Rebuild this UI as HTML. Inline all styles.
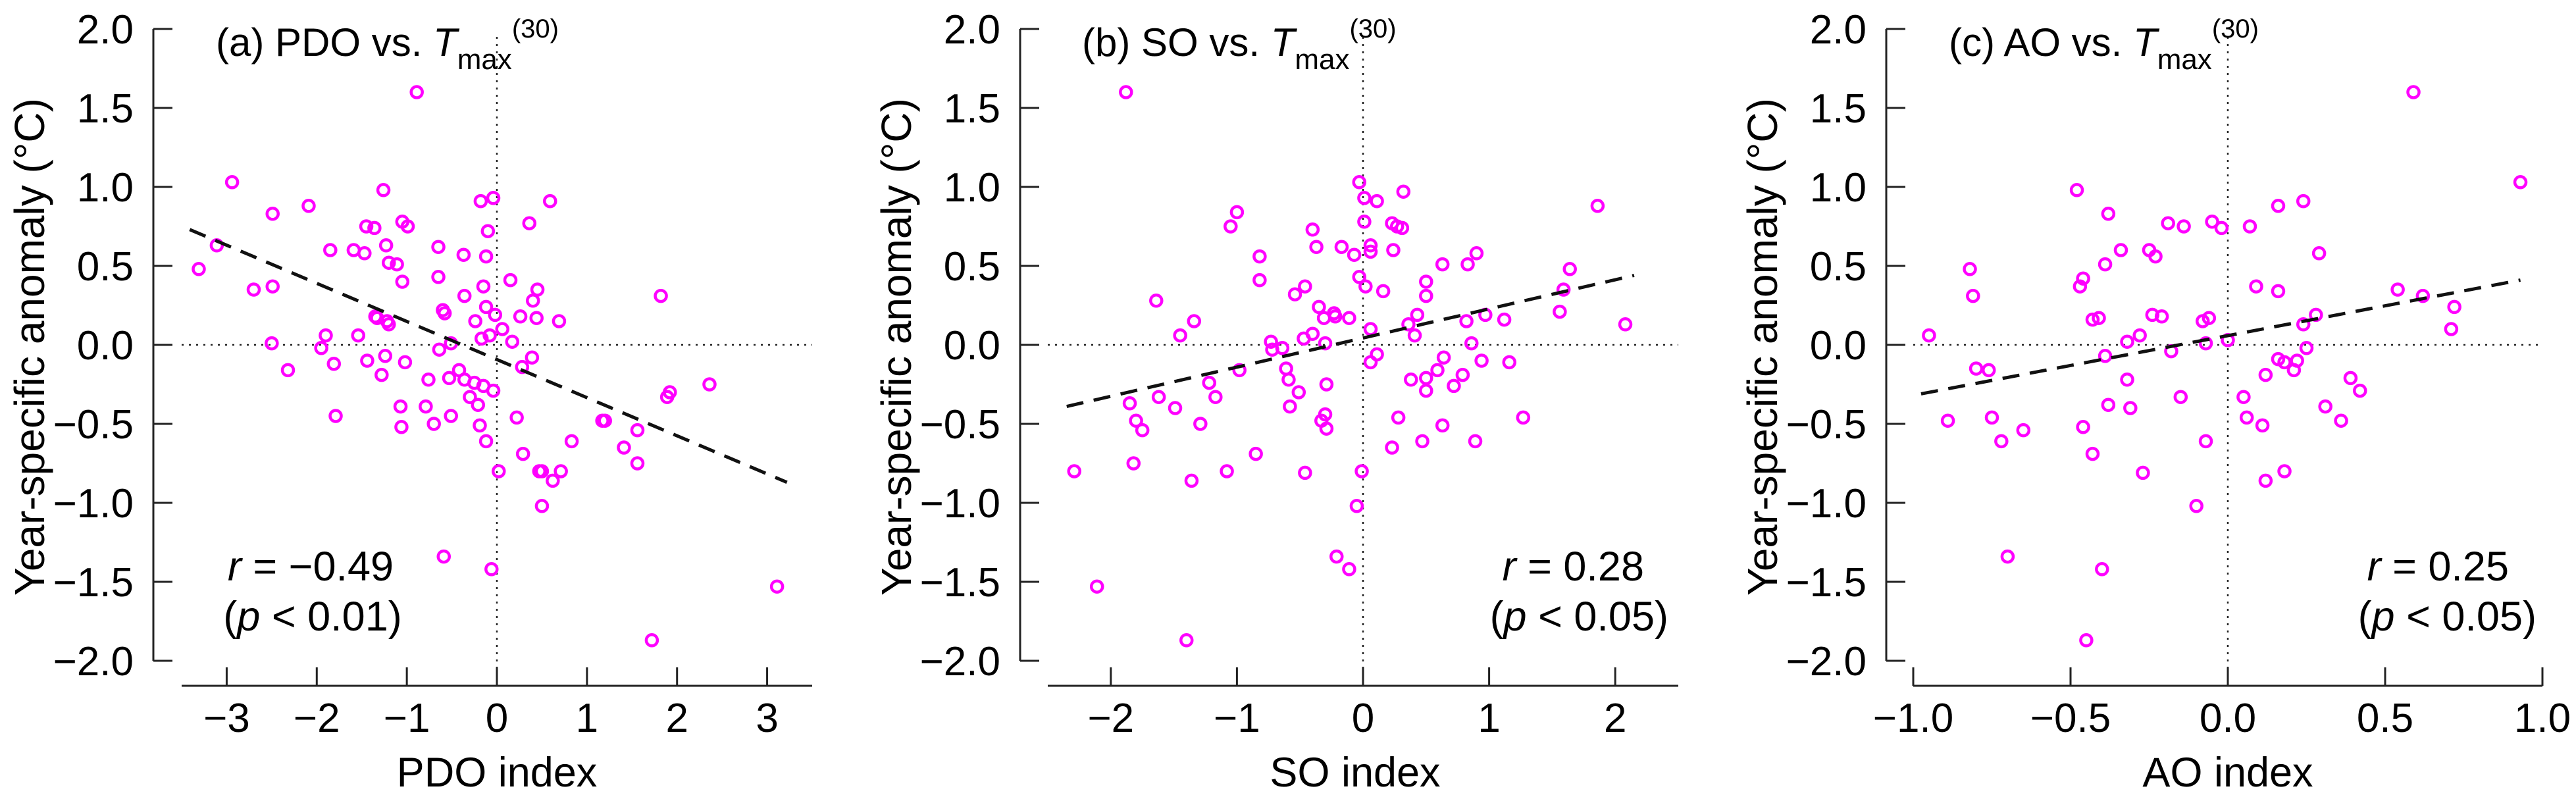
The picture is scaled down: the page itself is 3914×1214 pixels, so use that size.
<!DOCTYPE html>
<html><head><meta charset="utf-8"><style>
html,body{margin:0;padding:0;background:#fff;}
svg{display:block;font-family:"Liberation Sans",Arial,sans-serif;}
</style></head><body>
<svg id="fig" width="3914" height="1214" viewBox="0 0 3914 1214" xmlns="http://www.w3.org/2000/svg"></svg>
<script>
// Panel (a) PDO data
const pdoX = [-0.89,-2.94,-2.49,-2.09,-1.26,-0.18,-0.04,0.59,0.36,-1.05,-0.99,-1.45,-1.36,-0.10,-3.11,-1.85,-1.59,-1.47,-1.23,-0.65,-0.37,-0.12,-3.31,-1.20,-1.11,-1.05,-0.65,0.15,-2.70,-2.49,-0.15,0.45,-0.36,0.40,-0.12,1.82,-0.60,-0.58,-0.02,0.26,0.44,-1.35,-1.33,-0.24,0.69,-1.22,-1.20,0.06,-0.08,-0.17,0.17,-1.90,-1.54,-2.50,-0.51,-1.95,-0.64,-1.81,-1.44,-1.24,-1.02,0.39,0.28,-2.32,-1.28,-0.76,-0.53,-0.42,-0.36,-0.25,-0.15,-0.04,-0.30,-0.21,1.92,1.89,2.36,-1.79,-1.07,-0.79,-0.51,0.22,-1.06,-0.70,-0.19,1.17,1.20,1.56,-0.12,0.83,1.41,0.29,1.56,0.02,0.47,0.50,0.71,0.62,0.50,-0.59,-0.06,3.11,1.72];
const pdoY = [1.60,1.03,0.83,0.88,0.98,0.91,0.93,0.91,0.77,0.78,0.75,0.75,0.74,0.72,0.63,0.60,0.60,0.58,0.63,0.62,0.57,0.56,0.48,0.52,0.51,0.40,0.43,0.41,0.35,0.37,0.37,0.35,0.31,0.28,0.24,0.31,0.22,0.20,0.19,0.18,0.17,0.18,0.17,0.15,0.15,0.15,0.13,0.10,0.06,0.04,0.02,0.06,0.06,0.01,0.01,-0.02,-0.03,-0.12,-0.10,-0.07,-0.11,-0.08,-0.14,-0.16,-0.19,-0.22,-0.21,-0.16,-0.22,-0.24,-0.26,-0.29,-0.33,-0.38,-0.30,-0.33,-0.25,-0.45,-0.39,-0.39,-0.45,-0.46,-0.52,-0.50,-0.51,-0.48,-0.48,-0.54,-0.61,-0.61,-0.65,-0.69,-0.75,-0.80,-0.80,-0.80,-0.80,-0.86,-1.02,-1.34,-1.42,-1.53,-1.87];
// Panel (b) SO data
const soX = [-1.88,-0.03,0.01,0.11,0.32,1.86,-1.00,-1.05,-0.40,0.01,0.23,0.27,0.31,-0.37,-0.17,0.06,0.06,0.24,-0.07,-0.82,0.90,0.63,0.83,1.64,-0.82,-0.03,0.02,-0.46,-0.54,0.16,0.50,0.50,1.59,-1.64,-0.35,-0.31,-0.23,-0.22,-0.11,0.43,0.97,1.56,1.12,0.82,2.08,-1.34,0.36,0.06,-1.45,-0.40,-0.47,0.41,-0.30,-0.73,0.86,-0.72,-0.64,0.11,0.06,0.64,0.94,1.16,-0.98,-0.61,0.59,-1.22,-0.59,-0.29,0.38,0.50,0.50,0.79,0.72,-1.17,-0.51,-1.62,-1.85,-1.49,-0.58,-1.80,-1.75,-1.29,-0.33,-0.30,-0.29,0.28,1.27,0.63,0.47,0.89,0.23,-0.85,-2.29,-1.82,-1.08,-0.46,-0.01,-1.36,-0.05,-0.21,-0.11,-2.11,-1.40];
const soY = [1.60,1.03,0.93,0.91,0.97,0.88,0.84,0.75,0.73,0.78,0.77,0.75,0.74,0.62,0.62,0.63,0.59,0.60,0.57,0.56,0.58,0.51,0.51,0.48,0.41,0.43,0.37,0.37,0.32,0.34,0.40,0.31,0.35,0.28,0.24,0.17,0.20,0.18,0.17,0.19,0.19,0.21,0.16,0.15,0.13,0.15,0.13,0.10,0.06,0.07,0.04,0.06,0.01,0.02,0.01,-0.03,-0.02,-0.06,-0.11,-0.08,-0.10,-0.11,-0.16,-0.15,-0.16,-0.24,-0.22,-0.25,-0.22,-0.21,-0.29,-0.19,-0.26,-0.33,-0.30,-0.33,-0.37,-0.40,-0.39,-0.48,-0.54,-0.50,-0.48,-0.44,-0.53,-0.46,-0.46,-0.51,-0.61,-0.61,-0.65,-0.69,-0.80,-0.75,-0.80,-0.81,-0.80,-0.86,-1.02,-1.34,-1.42,-1.53,-1.87];
// Panel (c) AO data
const aoX = [0.59,0.93,-0.48,0.24,0.16,-0.38,-0.19,-0.14,-0.05,-0.02,0.07,-0.34,-0.25,-0.23,0.29,-0.39,-0.82,-0.46,-0.47,0.09,0.16,0.54,0.62,-0.81,0.72,-0.24,-0.21,-0.43,-0.41,0.28,-0.08,-0.06,0.24,0.71,-0.95,-0.28,-0.32,-0.07,0.00,-0.18,0.25,-0.39,0.16,0.18,0.22,0.21,-0.80,-0.76,-0.32,0.12,0.39,0.42,-0.15,0.05,-0.38,-0.31,0.31,-0.89,-0.75,-0.46,0.06,0.11,0.36,-0.65,-0.72,-0.07,-0.43,-0.27,0.18,0.12,-0.10,-0.70,-0.40,-0.45];
const aoY = [1.60,1.03,0.98,0.91,0.88,0.83,0.77,0.75,0.78,0.74,0.75,0.60,0.60,0.56,0.58,0.51,0.48,0.42,0.37,0.37,0.34,0.35,0.31,0.31,0.24,0.19,0.18,0.16,0.17,0.19,0.15,0.17,0.13,0.10,0.06,0.06,0.02,0.01,0.03,-0.04,-0.02,-0.07,-0.09,-0.11,-0.10,-0.16,-0.15,-0.16,-0.22,-0.19,-0.21,-0.29,-0.33,-0.33,-0.38,-0.40,-0.39,-0.48,-0.46,-0.52,-0.46,-0.51,-0.48,-0.54,-0.61,-0.61,-0.69,-0.81,-0.80,-0.86,-1.02,-1.34,-1.42,-1.87];
// regression line endpoints [x0,y0,x1,y1]
const fitA = [-3.41,0.73,3.22,-0.87];
const fitB = [-2.35,-0.39,2.15,0.44];
const fitC = [-0.975,-0.31,0.93,0.41];
// tick labels
const yTicks = [2.0,1.5,1.0,0.5,0.0,-0.5,-1.0,-1.5,-2.0];
const xTicksA = [-3,-2,-1,0,1,2,3];
const xTicksB = [-2,-1,0,1,2];
const xTicksC = [-1.0,-0.5,0.0,0.5,1.0];

const NS = "http://www.w3.org/2000/svg";
const svg = document.getElementById('fig');
function mk(tag, attrs, parent, text){
  const e = document.createElementNS(NS, tag);
  for (const k in attrs) e.setAttribute(k, attrs[k]);
  if (text !== undefined) e.textContent = text;
  (parent||svg).appendChild(e);
  return e;
}
function fmt(v, dec){ const s = Math.abs(v).toFixed(dec); return (v < 0 ? "\u2212" : "") + s; }

const panels = [
  {id:'a', yAxisX:233, xmin:-3.5, xmax:3.5, px0:276, px1:1234, xs:pdoX, ys:pdoY, fit:fitA, ticks:xTicksA, dec:0,
   title:'(a) PDO vs. ', titleX:328, xlabel:'PDO index', xlabelX:755, ytitleX:45,
   r:'\u22120.49', p:'0.01', statAnchor:'middle', rX:472, pX:475},
  {id:'b', yAxisX:1550, xmin:-2.5, xmax:2.5, px0:1592, px1:2550, xs:soX, ys:soY, fit:fitB, ticks:xTicksB, dec:0,
   title:'(b) SO vs. ', titleX:1644, xlabel:'SO index', xlabelX:2059, ytitleX:1362,
   r:'0.28', p:'0.05', statAnchor:'end', rX:2498, pX:2535},
  {id:'c', yAxisX:2866, xmin:-1.0, xmax:1.0, px0:2907, px1:3863, xs:aoX, ys:aoY, fit:fitC, ticks:xTicksC, dec:1,
   title:'(c) AO vs. ', titleX:2961, xlabel:'AO index', xlabelX:3385, ytitleX:2678,
   r:'0.25', p:'0.05', statAnchor:'end', rX:3812, pX:3854}
];
const yTop = 44, yBot = 1004, xAxisY = 1042;
function ypx(v){ return yTop + (2 - v) / 4 * (yBot - yTop); }

panels.forEach(P => {
  const g = mk('g', {});
  
  
  const xpx = v => P.px0 + (v - P.xmin) / (P.xmax - P.xmin) * (P.px1 - P.px0);
  // y axis
  const ya = mk('g', {}, g);
  
  
  mk('line', {x1:P.yAxisX, y1:yTop, x2:P.yAxisX, y2:yBot, stroke:'#222', 'stroke-width':3}, ya);
  yTicks.forEach(t => {
    const y = ypx(t);
    mk('line', {x1:P.yAxisX, y1:y, x2:P.yAxisX+29, y2:y, stroke:'#222', 'stroke-width':3}, ya);
    const tl = mk('text', {x:P.yAxisX-30, y:y+22, 'text-anchor':'end', 'font-size':62, fill:'#000'}, ya, fmt(t,1));
    
    
  });
  // x axis
  const xa = mk('g', {}, g);
  
  
  mk('line', {x1:P.px0, y1:xAxisY, x2:P.px1, y2:xAxisY, stroke:'#222', 'stroke-width':3}, xa);
  P.ticks.forEach(t => {
    const x = xpx(t);
    mk('line', {x1:x, y1:xAxisY, x2:x, y2:xAxisY-28, stroke:'#222', 'stroke-width':3}, xa);
    const tl = mk('text', {x:x, y:1112, 'text-anchor':'middle', 'font-size':62, fill:'#000'}, xa, fmt(t,P.dec));
    
    
  });
  // reference dotted lines
  const hz = mk('line', {x1:P.px0, y1:ypx(0), x2:P.px1, y2:ypx(0), stroke:'#222', 'stroke-width':2.5, 'stroke-dasharray':'3 8'}, g);
  
  
  const vt = mk('line', {x1:xpx(0), y1:56, x2:xpx(0), y2:xAxisY, stroke:'#222', 'stroke-width':2.5, 'stroke-dasharray':'3 8'}, g);
  
  
  // points
  const pts = mk('g', {}, g);
  
  
  P.xs.forEach((xv, i) => {
    const c = mk('circle', {cx:xpx(xv), cy:ypx(P.ys[i]), r:8.5, fill:'none', stroke:'#ff00ff', 'stroke-width':4.5}, pts);
    
    
  });
  // regression
  const fl = mk('line', {x1:xpx(P.fit[0]), y1:ypx(P.fit[1]), x2:xpx(P.fit[2]), y2:ypx(P.fit[3]), stroke:'#111', 'stroke-width':5, 'stroke-dasharray':'26 16'}, g);
  
  
  // title
  const tt = mk('text', {x:P.titleX, y:85, 'font-size':60, fill:'#000'}, g);
  
  
  mk('tspan', {}, tt, P.title);
  mk('tspan', {'font-style':'italic'}, tt, 'T');
  mk('tspan', {'font-size':44, dy:20}, tt, 'max');
  mk('tspan', {'font-size':40, dy:-48}, tt, '(30)');
  // x label
  const xl = mk('text', {x:P.xlabelX, y:1195, 'text-anchor':'middle', 'font-size':63, fill:'#000'}, g, P.xlabel);
  
  
  // y title
  const yt = mk('text', {x:P.ytitleX, y:527, 'text-anchor':'middle', 'dominant-baseline':'central', 'font-size':64, fill:'#000', transform:'rotate(-90 '+P.ytitleX+' 527)'}, g, 'Year-specific anomaly (\u00B0C)');
  
  
  // stats
  const rt = mk('text', {x:P.rX, y:882, 'text-anchor':P.statAnchor, 'font-size':63, fill:'#000'}, g);
  
  
  mk('tspan', {'font-style':'italic'}, rt, 'r');
  mk('tspan', {}, rt, ' = ' + P.r);
  const pt = mk('text', {x:P.pX, y:958, 'text-anchor':P.statAnchor, 'font-size':63, fill:'#000'}, g);
  
  
  mk('tspan', {}, pt, '(');
  mk('tspan', {'font-style':'italic'}, pt, 'p');
  mk('tspan', {}, pt, ' < ' + P.p + ')');
});
</script>
</body></html>
